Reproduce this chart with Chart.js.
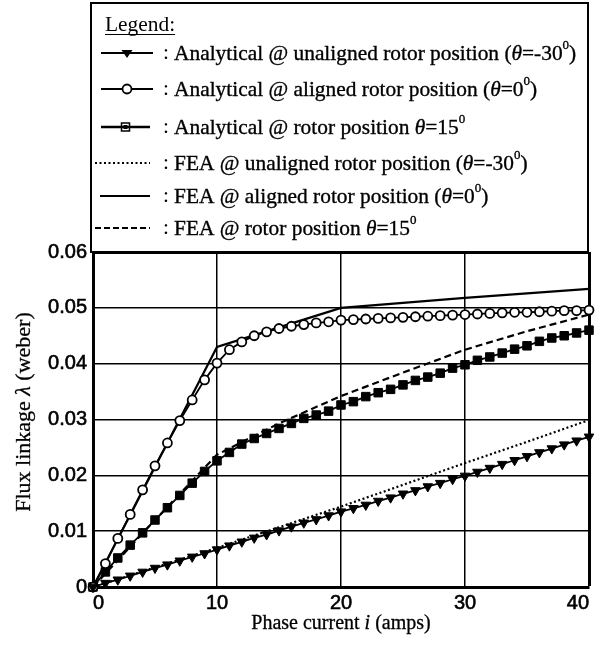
<!DOCTYPE html>
<html>
<head>
<meta charset="utf-8">
<title>Flux linkage vs phase current</title>
<script src="https://cdn.jsdelivr.net/npm/chart.js@4.4.1/dist/chart.umd.min.js"></script>
<style>
  html, body { margin: 0; padding: 0; background: #fff; }
  #wrap { width: 596px; height: 647px; }
</style>
</head>
<body>
<div id="wrap"><canvas id="fluxChart" width="596" height="647"></canvas></div>
<script>
// Phase current (amps) - analytical curves, one point per amp
const currentAnalytical = [0, 1, 2, 3, 4, 5, 6, 7, 8, 9, 10,
  11, 12, 13, 14, 15, 16, 17, 18, 19, 20,
  21, 22, 23, 24, 25, 26, 27, 28, 29, 30,
  31, 32, 33, 34, 35, 36, 37, 38, 39, 40];

// Flux linkage (weber), analytical model
const fluxUnalignedAnalytical = [0, 0.0007, 0.0013, 0.0020, 0.0027, 0.0034, 0.0040, 0.0047, 0.0054, 0.0060, 0.0067,
  0.0074, 0.0081, 0.0088, 0.0094, 0.0101, 0.0108, 0.0115, 0.0121, 0.0128, 0.0135,
  0.0141, 0.0147, 0.0154, 0.0160, 0.0167, 0.0173, 0.0180, 0.0186, 0.0193, 0.0199,
  0.0206, 0.0213, 0.0220, 0.0227, 0.0234, 0.0241, 0.0248, 0.0255, 0.0262, 0.0269];
const fluxAlignedAnalytical = [0, 0.0042, 0.0087, 0.0130, 0.0174, 0.0217, 0.0258, 0.0298, 0.0335, 0.0371, 0.0401,
  0.0425, 0.0439, 0.0450, 0.0457, 0.0463, 0.0467, 0.0470, 0.0473, 0.0475, 0.0478,
  0.0479, 0.0480, 0.0481, 0.0482, 0.0483, 0.0484, 0.0485, 0.0486, 0.0487, 0.0488,
  0.0489, 0.0490, 0.0491, 0.0492, 0.0492, 0.0493, 0.0494, 0.0495, 0.0495, 0.0496];
const flux15Analytical = [0, 0.0027, 0.0052, 0.0075, 0.0097, 0.0120, 0.0142, 0.0164, 0.0186, 0.0207, 0.0226,
  0.0241, 0.0256, 0.0266, 0.0275, 0.0284, 0.0293, 0.0302, 0.0308, 0.0315, 0.0326,
  0.0332, 0.0341, 0.0348, 0.0354, 0.0362, 0.0370, 0.0376, 0.0383, 0.0392, 0.0398,
  0.0406, 0.0412, 0.0419, 0.0426, 0.0432, 0.0440, 0.0446, 0.0450, 0.0455, 0.0460];

// FEA results
const currentFea = [0, 5, 10, 15, 20, 25, 30, 35, 40];
const fluxUnalignedFea = [0, 0.0035, 0.0070, 0.0107, 0.0144, 0.0183, 0.0222, 0.0260, 0.0299];
const fluxAlignedFea = [0, 0.0215, 0.0430, 0.0465, 0.0500, 0.0509, 0.0518, 0.0526, 0.0534];
const flux15Fea = [0, 0.0120, 0.0237, 0.0293, 0.0342, 0.0384, 0.0425, 0.0458, 0.0488];

// Axis ticks
const xTicks = [0, 10, 20, 30, 40];
const yTickLabels = ['0', '0.01', '0.02', '0.03', '0.04', '0.05', '0.06'];

// Legend text (theta in italics, degree as superscript 0)
const legendLabels = [
  [{ t: 'Analytical @ unaligned rotor position (' }, { t: '\u03b8', it: true }, { t: '=-30' }, { t: '0', sup: true }, { t: ')' }],
  [{ t: 'Analytical @ aligned rotor position (' }, { t: '\u03b8', it: true }, { t: '=0' }, { t: '0', sup: true }, { t: ')' }],
  [{ t: 'Analytical @ rotor position ' }, { t: '\u03b8', it: true }, { t: '=15' }, { t: '0', sup: true }],
  [{ t: 'FEA @ unaligned rotor position (' }, { t: '\u03b8', it: true }, { t: '=-30' }, { t: '0', sup: true }, { t: ')' }],
  [{ t: 'FEA @ aligned rotor position (' }, { t: '\u03b8', it: true }, { t: '=0' }, { t: '0', sup: true }, { t: ')' }],
  [{ t: 'FEA @ rotor position ' }, { t: '\u03b8', it: true }, { t: '=15' }, { t: '0', sup: true }]
];

const SERIF = '"Liberation Serif", "Times New Roman", serif';
const SANS = '"Liberation Sans", Arial, sans-serif';

function toPoints(xs, ys) {
  return xs.map((x, i) => ({ x: x, y: ys[i] }));
}

// draw a run of text pieces, returns end x
function richText(ctx, x, y, parts, size) {
  parts.forEach(p => {
    let f = size, dy = 0;
    if (p.sup) { f = Math.round(size * 0.6); dy = -size * 0.4; }
    ctx.font = (p.it ? 'italic ' : '') + f + 'px ' + SERIF;
    ctx.fillText(p.t, x, y + dy);
    ctx.strokeText(p.t, x, y + dy);
    x += ctx.measureText(p.t).width;
  });
  return x;
}

function richWidth(ctx, parts, size) {
  let w = 0;
  parts.forEach(p => {
    const f = p.sup ? Math.round(size * 0.6) : size;
    ctx.font = (p.it ? 'italic ' : '') + f + 'px ' + SERIF;
    w += ctx.measureText(p.t).width;
  });
  return w;
}

function drawMarker(ctx, style, x, y) {
  ctx.save();
  ctx.setLineDash([]);
  ctx.fillStyle = '#000';
  ctx.strokeStyle = '#000';
  ctx.beginPath();
  if (style === 'triangle') {
    ctx.moveTo(x - 5.5, y - 3);
    ctx.lineTo(x + 5.5, y - 3);
    ctx.lineTo(x, y + 5);
    ctx.closePath();
    ctx.fill();
  } else if (style === 'circle') {
    ctx.lineWidth = 1.8;
    ctx.fillStyle = '#fff';
    ctx.arc(x, y, 4.5, 0, Math.PI * 2);
    ctx.fill();
    ctx.stroke();
  } else if (style === 'rect') {
    ctx.lineWidth = 1.5;
    ctx.rect(x - 4, y - 4, 8, 8);
    ctx.stroke();
    ctx.fillRect(x - 2, y - 2, 4, 4);
  }
  ctx.restore();
}

// legend box + axis titles
const legendRowY = [53, 89, 127, 163, 196, 228];
const legendStyle = [
  { dash: [], width: 2, marker: 'triangle', x0: 101, x1: 153 },
  { dash: [], width: 2, marker: 'circle', x0: 101, x1: 153 },
  { dash: [], width: 2.5, marker: 'rect', x0: 101, x1: 150 },
  { dash: [2, 2.5], width: 2, marker: null, x0: 95, x1: 150 },
  { dash: [], width: 2.2, marker: null, x0: 100, x1: 150 },
  { dash: [6, 3], width: 2, marker: null, x0: 95, x1: 150 }
];

const annotations = {
  id: 'annotations',
  afterDraw(chart) {
    const ctx = chart.ctx;
    const area = chart.chartArea;
    ctx.save();
    ctx.fillStyle = '#000';
    ctx.strokeStyle = '#000';

    // legend frame
    ctx.lineWidth = 2;
    ctx.strokeRect(91, 3, 497, area.top - 3);

    ctx.font = '21.4px ' + SERIF;
    ctx.textBaseline = 'alphabetic';
    ctx.textAlign = 'left';
    ctx.fillText('Legend:', 105, 31);
    const lw = ctx.measureText('Legend:').width;
    ctx.lineWidth = 1;
    ctx.beginPath();
    ctx.moveTo(105, 34.5);
    ctx.lineTo(105 + lw, 34.5);
    ctx.stroke();

    ctx.textBaseline = 'middle';
    legendLabels.forEach((parts, i) => {
      const y = legendRowY[i];
      const st = legendStyle[i];
      ctx.save();
      ctx.lineWidth = st.width;
      ctx.setLineDash(st.dash);
      ctx.beginPath();
      ctx.moveTo(st.x0, y);
      ctx.lineTo(st.x1, y);
      ctx.stroke();
      ctx.restore();
      if (st.marker) drawMarker(ctx, st.marker, (st.x0 + st.x1) / 2, y);
      ctx.font = '21.4px ' + SERIF;
      ctx.fillText(':', 163, y);
      ctx.lineWidth = 0.35;
      richText(ctx, 174, y + 1, parts, 21.4);
    });

    // x axis title
    ctx.lineWidth = 0.3;
    const xParts = [{ t: 'Phase current ' }, { t: 'i', it: true }, { t: ' (amps)' }];
    const xw = richWidth(ctx, xParts, 20);
    ctx.textBaseline = 'middle';
    richText(ctx, (area.left + area.right) / 2 - xw / 2, 624, xParts, 20);

    // y axis title
    const yParts = [{ t: 'Flux linkage ' }, { t: '\u03bb', it: true }, { t: ' (weber)' }];
    const yw = richWidth(ctx, yParts, 22);
    ctx.translate(24, 412);
    ctx.rotate(-Math.PI / 2);
    richText(ctx, -yw / 2, 0, yParts, 22);
    ctx.restore();
  }
};

function edgeWidth(value, edge) {
  return Math.abs(value - edge) < 1e-9 ? 3 : 1.5;
}

const ctx = document.getElementById('fluxChart').getContext('2d');
const fluxChart = new Chart(ctx, {
  type: 'line',
  data: {
    datasets: [
      {
        label: 'Analytical @ unaligned rotor position',
        data: toPoints(currentAnalytical, fluxUnalignedAnalytical),
        borderColor: '#000',
        borderWidth: 1.8,
        pointStyle: 'triangle',
        rotation: 180,
        pointRadius: 5.5,
        pointBackgroundColor: '#000',
        pointBorderColor: '#000',
        pointBorderWidth: 1,
        clip: false
      },
      {
        label: 'Analytical @ aligned rotor position',
        data: toPoints(currentAnalytical, fluxAlignedAnalytical),
        borderColor: '#000',
        borderWidth: 1.8,
        pointStyle: 'circle',
        pointRadius: 4.5,
        pointBackgroundColor: '#fff',
        pointBorderColor: '#000',
        pointBorderWidth: 1.8,
        clip: false
      },
      {
        label: 'Analytical @ rotor position 15',
        data: toPoints(currentAnalytical, flux15Analytical),
        borderColor: '#000',
        borderWidth: 1.8,
        pointStyle: 'rect',
        pointRadius: 6,
        pointBackgroundColor: '#000',
        pointBorderColor: '#000',
        pointBorderWidth: 1,
        clip: false
      },
      {
        label: 'FEA @ unaligned rotor position',
        data: toPoints(currentFea, fluxUnalignedFea),
        borderColor: '#000',
        borderWidth: 2.2,
        borderDash: [2, 2.5],
        pointRadius: 0,
        clip: false
      },
      {
        label: 'FEA @ aligned rotor position',
        data: toPoints(currentFea, fluxAlignedFea),
        borderColor: '#000',
        borderWidth: 2.2,
        pointRadius: 0,
        clip: false
      },
      {
        label: 'FEA @ rotor position 15',
        data: toPoints(currentFea, flux15Fea),
        borderColor: '#000',
        borderWidth: 2.2,
        borderDash: [7, 4],
        pointRadius: 0,
        clip: false
      }
    ]
  },
  options: {
    responsive: false,
    animation: false,
    devicePixelRatio: 1,
    layout: { padding: { top: 252, right: 7, left: 0, bottom: 0 } },
    elements: { line: { tension: 0, fill: false } },
    plugins: {
      legend: { display: false },
      tooltip: { enabled: false }
    },
    scales: {
      x: {
        type: 'linear',
        min: xTicks[0],
        max: xTicks[xTicks.length - 1],
        afterBuildTicks: scale => { scale.ticks = xTicks.map(v => ({ value: v })); },
        afterFit: scale => { scale.height = 60; },
        ticks: {
          align: 'inner',
          padding: 4,
          maxRotation: 0,
          color: '#000',
          textStrokeColor: '#000',
          textStrokeWidth: 0.6,
          font: { family: SANS, size: 20 }
        },
        grid: {
          color: '#000',
          drawTicks: false,
          lineWidth: c => edgeWidth(c.tick ? c.tick.value : 0, 40)
        },
        border: { color: '#000', width: 3 }
      },
      y: {
        type: 'linear',
        min: 0,
        max: 0.06,
        afterBuildTicks: scale => { scale.ticks = yTickLabels.map(s => ({ value: parseFloat(s) })); },
        afterFit: scale => { scale.width = 93; },
        ticks: {
          padding: 6,
          color: '#000',
          textStrokeColor: '#000',
          textStrokeWidth: 0.6,
          font: { family: SANS, size: 20 },
          callback: (v, i) => yTickLabels[i]
        },
        grid: {
          color: '#000',
          drawTicks: false,
          lineWidth: c => edgeWidth(c.tick ? c.tick.value : 0, 0.06)
        },
        border: { color: '#000', width: 3 }
      }
    }
  },
  plugins: [annotations]
});
</script>
</body>
</html>
